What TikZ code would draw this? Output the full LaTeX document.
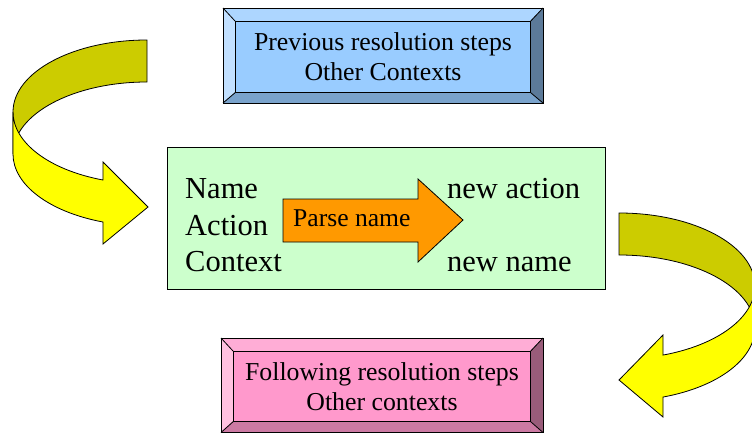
\documentclass[tikz,border=0pt]{standalone}
\usepackage{fontspec}
\setmainfont{Liberation Serif}
\definecolor{bface}{HTML}{99CCFF}
\definecolor{btop}{HTML}{ADD6FF}
\definecolor{bleft}{HTML}{C2E0FF}
\definecolor{bright}{HTML}{5C7A99}
\definecolor{bbottom}{HTML}{7AA3CC}
\definecolor{pface}{HTML}{FF99CC}
\definecolor{ptop}{HTML}{FFADD6}
\definecolor{pleft}{HTML}{FFC2E0}
\definecolor{pright}{HTML}{995C7A}
\definecolor{pbottom}{HTML}{CC7AA3}
\definecolor{ctxgreen}{HTML}{CCFFCC}
\definecolor{parseorange}{HTML}{FF9900}
\definecolor{backyellow}{HTML}{CCCC00}
\definecolor{frontyellow}{HTML}{FFFF00}
\tikzset{
  edge/.style={draw=black, line width=0.8pt, line join=miter},
  bigtext/.style={inner sep=0pt, anchor=base west, font=\fontsize{30.5}{35}\selectfont},
  boxtext/.style={inner sep=0pt, anchor=base, font=\fontsize{25.8}{30}\selectfont},
  parsetext/.style={inner sep=0pt, anchor=base west, font=\fontsize{25.6}{30}\selectfont},
  ellA/.style={x radius=134, y radius=72},
  ellB/.style={x radius=136, y radius=73}
}
\begin{document}
\begin{tikzpicture}[x=1pt,y=-1pt]
\useasboundingbox (0,0) rectangle (752,434);
\clip (0,0) rectangle (752,434);

% ---------- top bevel box ----------
\fill[btop] (223,8) -- (543,8) -- (530,21) -- (235,21) -- cycle;
\fill[bleft] (223,8) -- (235,21) -- (235,92) -- (223,103) -- cycle;
\fill[bbottom] (223,103) -- (235,92) -- (530,92) -- (543,103) -- cycle;
\fill[bright] (543,8) -- (543,103) -- (530,92) -- (530,21) -- cycle;
\node[edge, fill=bface, minimum width=295pt, minimum height=71pt, inner sep=0pt, anchor=north west] (prev) at (235,21) {};
\draw[edge] (223,8) rectangle (543,103);
\draw[edge] (223,8) -- (prev.north west) (543,8) -- (prev.north east)
            (223,103) -- (prev.south west) (543,103) -- (prev.south east);
\node[boxtext] (prevA) at (383,50) {Previous resolution steps};
\node[boxtext] (prevB) at (383,80) {Other Contexts};

% ---------- bottom bevel box ----------
\fill[ptop] (221,338) -- (543,338) -- (530,351) -- (233,351) -- cycle;
\fill[pleft] (221,338) -- (233,351) -- (233,421) -- (221,432.5) -- cycle;
\fill[pbottom] (221,432.5) -- (233,421) -- (530,421) -- (543,432.5) -- cycle;
\fill[pright] (543,338) -- (543,432.5) -- (530,421) -- (530,351) -- cycle;
\node[edge, fill=pface, minimum width=297pt, minimum height=70pt, inner sep=0pt, anchor=north west] (next) at (233,351) {};
\draw[edge] (221,338) rectangle (543,432.5);
\draw[edge] (221,338) -- (next.north west) (543,338) -- (next.north east)
            (221,432.5) -- (next.south west) (543,432.5) -- (next.south east);
\node[boxtext] (nextA) at (382,380) {Following resolution steps};
\node[boxtext] (nextB) at (382,410) {Other contexts};

% ---------- central context box ----------
\node[edge, fill=ctxgreen, minimum width=438pt, minimum height=142pt, inner sep=0pt, anchor=north west] (ctx) at (167,147) {};
\node[bigtext] (name) at (185,198.3) {Name};
\node[bigtext] (action) at (185,235) {Action};
\node[bigtext] (context) at (185,271.7) {Context};
\node[bigtext] (newaction) at (447,198.3) {new action};
\node[bigtext] (newname) at (447,271.7) {new name};

% orange block arrow
\draw[edge, fill=parseorange] (283,199) -- (418,199) -- (418,179) -- (463,220)
  -- (418,262) -- (418,242) -- (283,242) -- cycle;
\node[parsetext] (parse) at (293,226.7) {Parse name};

% ---------- left curved arrow ----------
\draw[edge, fill=backyellow] (147,40) arc[start angle=270, end angle=180, ellA]
  -- (13,154) arc[start angle=180, end angle=270, ellA] -- cycle;
\draw[edge, fill=frontyellow] (13,112) arc[start angle=180, end angle=109.2, ellA]
  -- (103,162) -- (148,207) -- (103,244) -- (102.93,222)
  arc[start angle=109.2, end angle=180, ellA] -- cycle;

% ---------- right curved arrow ----------
\draw[edge, fill=backyellow] (619,213) arc[start angle=270, end angle=360, ellB]
  -- (755,328) arc[start angle=0, end angle=-90, ellB] -- cycle;
\draw[edge, fill=frontyellow] (755,286) arc[start angle=0, end angle=71.1, ellB]
  -- (663,335) -- (619,380) -- (663,417) -- (663,397.05)
  arc[start angle=71.1, end angle=0, ellB] -- cycle;
\end{tikzpicture}
\end{document}
